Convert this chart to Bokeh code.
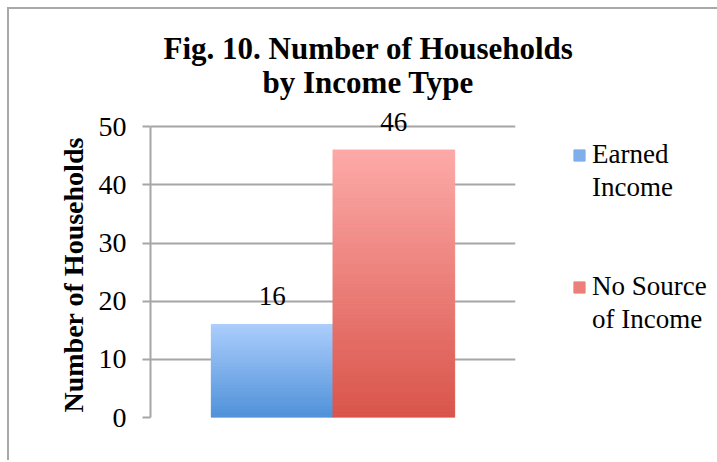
from bokeh.plotting import figure
from bokeh.models import Range1d, Legend, LegendItem, LabelSet, ColumnDataSource, Title, FixedTicker
from bokeh.core.properties import value
from bokeh.embed import file_html
from bokeh.resources import INLINE

# ---- data ----
title_lines = ["Fig. 10. Number of Households", "by Income Type"]
series = ["Earned Income", "No Source of Income"]
legend_lines = [["Earned", "Income"], ["No Source", "of Income"]]
values = [16, 46]
y_ticks = [0, 10, 20, 30, 40, 50]
y_label = "Number of Households"
top_colors = ["#abcdfc", "#fdaaa8"]
bottom_colors = ["#4f91d9", "#d9544a"]

FONT = "Liberation Serif"
GRID = "#a6a6a6"

p = figure(frame_width=365, frame_height=314, x_range=Range1d(0, 3), y_range=Range1d(0, 54),
           output_backend="svg", toolbar_location=None, title=None,
           min_border_left=141, min_border_right=202, min_border_top=94, min_border_bottom=45,
           outline_line_color=None, margin=(9, 0, 0, 9),
           styles={"box-shadow": "-2px -2px 0 0 #a8a8a8"})

def hex2rgb(h):
    h = h.lstrip("#")
    return [int(h[i:i + 2], 16) for i in (0, 2, 4)]

def rgb2hex(c):
    return "#%02x%02x%02x" % tuple(int(round(v)) for v in c)

# gradient bars, drawn as thin stacked slices of each bar
N = 80
bar_renderers = []
for i, v in enumerate(values):
    b = hex2rgb(bottom_colors[i])
    t = hex2rgb(top_colors[i])
    bottoms, tops, colors = [], [], []
    for k in range(N):
        f = (k + 0.5) / N
        bottoms.append(v * k / N)
        tops.append(v * (k + 1) / N)
        colors.append(rgb2hex([b[j] + (t[j] - b[j]) * f for j in range(3)]))
    src = ColumnDataSource(dict(left=[i + 0.5] * N, right=[i + 1.5] * N,
                                bottom=bottoms, top=tops, color=colors))
    r = p.quad(left="left", right="right", bottom="bottom", top="top", source=src,
               fill_color="color", line_color="color", line_width=1)
    bar_renderers.append(r)

# data labels
lab_src = ColumnDataSource(dict(x=[i + 1 for i in range(len(values))], y=values,
                                text=[str(v) for v in values]))
p.add_layout(LabelSet(x="x", y="y", text="text", source=lab_src, y_offset=19,
                      text_align="center", text_baseline="alphabetic",
                      text_font=value(FONT), text_font_size="27px", text_color="black"))

# axes
p.xaxis.visible = False
p.xgrid.visible = False
p.ygrid.grid_line_color = GRID
p.ygrid.grid_line_width = 2
p.yaxis.ticker = FixedTicker(ticks=y_ticks)
p.yaxis.bounds = (0, 50)
p.yaxis.axis_line_color = GRID
p.yaxis.axis_line_width = 2
p.yaxis.major_tick_line_color = GRID
p.yaxis.major_tick_line_width = 2
p.yaxis.major_tick_out = 8
p.yaxis.major_tick_in = 0
p.yaxis.minor_tick_line_color = None
p.yaxis.major_label_standoff = 16
p.yaxis.major_label_text_font = FONT
p.yaxis.major_label_text_font_size = "28px"
p.yaxis.major_label_text_color = "black"

# y label as a vertical title left of the axis
p.add_layout(Title(text=y_label, align="left", offset=5, standoff=14,
                   text_font=FONT, text_font_style="bold", text_font_size="28px",
                   text_color="black"), "left")

# title (second line closest to the frame, added first)
p.add_layout(Title(text=title_lines[1], align="left", offset=112, standoff=7,
                   text_font=FONT, text_font_style="bold", text_font_size="31px",
                   text_color="black"), "above")
p.add_layout(Title(text=title_lines[0], align="left", offset=13, standoff=-12,
                   text_font=FONT, text_font_style="bold", text_font_size="31px",
                   text_color="black"), "above")

# legend
items = []
for i, lines in enumerate(legend_lines):
    items.append(LegendItem(label=lines[0], renderers=[bar_renderers[i]], index=N // 2))
    blank = p.quad(left=[], right=[], bottom=[], top=[], fill_alpha=0, line_alpha=0)
    items.append(LegendItem(label=lines[1], renderers=[blank]))
    if i == 0:
        for _ in range(2):
            blank2 = p.quad(left=[], right=[], bottom=[], top=[], fill_alpha=0, line_alpha=0)
            items.append(LegendItem(label=" ", renderers=[blank2]))

legend = Legend(items=items, location=(57, 81), orientation="vertical",
                label_text_font=FONT, label_text_font_size="27px", label_text_color="black",
                glyph_width=14, glyph_height=14, label_standoff=6, spacing=0,
                padding=0, margin=0, border_line_color=None, background_fill_alpha=0,
                label_height=33, click_policy="none")
p.add_layout(legend, "right")

open("out.html", "w").write(file_html(p, INLINE))
